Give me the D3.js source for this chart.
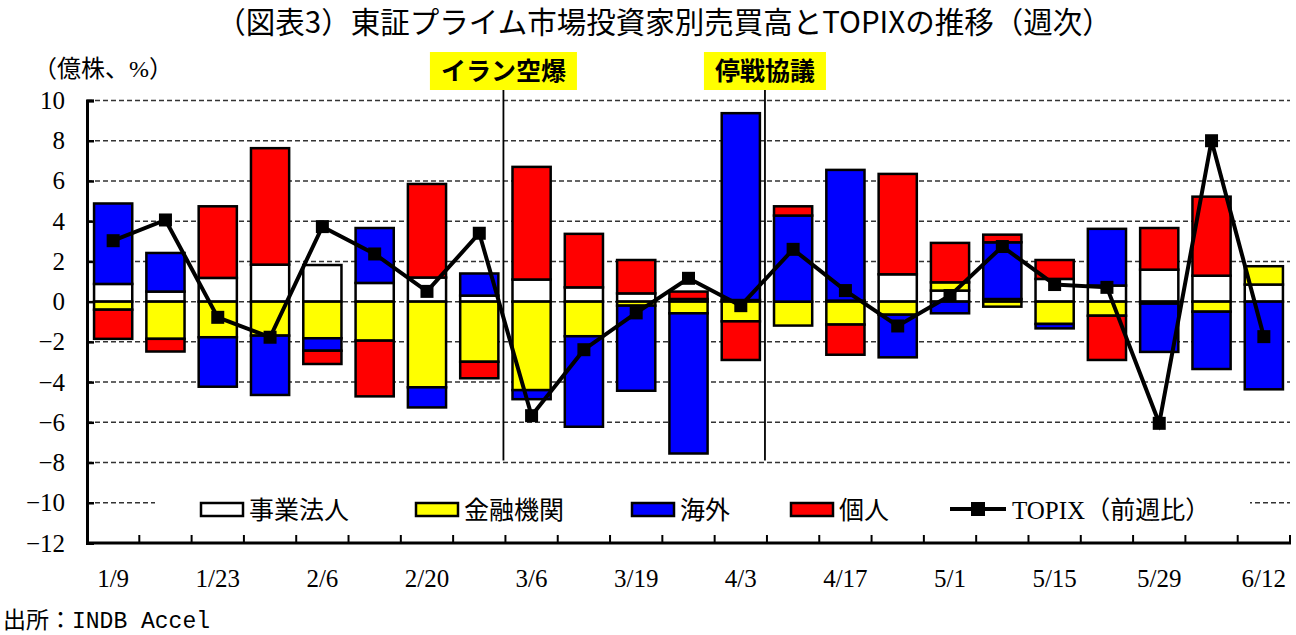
<!DOCTYPE html>
<html>
<head>
<meta charset="utf-8">
<script src="https://cdn.jsdelivr.net/npm/d3@7"></script>
<style>
  body { margin: 0; background: #fff; }
  svg { display: block; }
</style>
</head>
<body>
<svg id="chart" width="1296" height="635"></svg>
<script>
// weekly data (億株 / %)
var dates = ["1/9","1/16","1/23","1/30","2/6","2/13","2/20","2/27","3/6","3/13","3/19","3/27",
             "4/3","4/10","4/17","4/24","5/1","5/8","5/15","5/22","5/29","6/5","6/12"];
var jigyo  = [0.88,0.5,1.18,1.84,1.82,0.93,1.2,0.3,1.1,0.71,0.41,0.13,0.08,0,0.05,1.36,0.55,0.13,1.13,0.8,1.59,1.29,0.85];
var kinyu  = [-0.4,-1.85,-1.77,-1.69,-1.82,-1.94,-4.26,-2.99,-4.4,-1.72,-0.2,-0.58,-0.98,-1.19,-1.14,-0.65,0.41,-0.25,-1.11,-0.7,-0.1,-0.5,0.91];
var kaigai = [4.0,1.92,-2.46,-2.95,-0.62,2.73,-1.0,1.1,-0.45,-4.5,-4.23,-6.97,9.29,4.28,6.5,-2.12,-0.58,2.82,-0.22,2.82,-2.4,-2.85,-4.36];
var kojin  = [-1.45,-0.63,3.56,5.79,-0.66,-2.77,4.65,-0.82,5.6,2.66,1.66,0.37,-1.92,0.46,-1.5,4.99,1.96,0.38,0.94,-2.2,2.07,3.93,0];
var topix  = [3.03,4.06,-0.78,-1.77,3.73,2.37,0.51,3.4,-5.67,-2.39,-0.56,1.16,-0.2,2.6,0.55,-1.21,0.3,2.74,0.85,0.71,-6.05,8.0,-1.74];

var seriesNames = ["事業法人","金融機関","海外","個人"];
var seriesColors = ["#ffffff","#ffff00","#0000ff","#ff0000"];
var yTicks = [10,8,6,4,2,0,-2,-4,-6,-8,-10,-12];
var events = [{label:"イラン空爆", after:"2/27"}, {label:"停戦協議", after:"4/3"}];

(function(){
var serif = "'Liberation Serif','Noto Sans CJK JP',serif";
var gothic = "'Noto Sans CJK JP',sans-serif";

var svg = d3.select("#chart");
var pLeft = 87, pRight = 1290, pTop = 100.5, pBottom = 543;

var x = d3.scaleBand().domain(dates).range([pLeft, pRight]).paddingInner(0.27).paddingOuter(0.135);
var y = d3.scaleLinear().domain([-12, 10]).range([pBottom, pTop]);
var step = x.step();
function boundary(d){ return x(d) - step * 0.135; }

var table = dates.map(function(d, i){
  return {date:d, "事業法人":jigyo[i], "金融機関":kinyu[i], "海外":kaigai[i], "個人":kojin[i]};
});
var stacked = d3.stack().keys(seriesNames).offset(d3.stackOffsetDiverging)(table);

// title
svg.append("text").attr("x", 664).attr("y", 33).attr("text-anchor","middle")
  .attr("font-family", gothic).attr("font-size", 29.5).text("（図表3）東証プライム市場投資家別売買高とTOPIXの推移（週次）");
svg.append("text").attr("x", 33).attr("y", 77)
  .attr("font-family", serif).attr("font-size", 24).text("（億株、%）");

// gridlines
svg.append("g").selectAll("line").data(yTicks.filter(function(t){ return t > -12; })).enter()
  .append("line")
  .attr("x1", pLeft).attr("x2", pRight)
  .attr("y1", function(d){ return y(d); }).attr("y2", function(d){ return y(d); })
  .attr("stroke", "#333").attr("stroke-width", 1.5).attr("stroke-dasharray", "5,3");

// event lines + labels
events.forEach(function(ev){
  var i = dates.indexOf(ev.after);
  var ex = boundary(dates[i + 1]) - 2;
  svg.append("line").attr("x1", ex).attr("x2", ex).attr("y1", 90).attr("y2", y(-7.9))
    .attr("stroke", "#000").attr("stroke-width", 1.8);
  var t = svg.append("text").attr("x", ex).attr("y", 80).attr("text-anchor","middle")
    .attr("font-family", gothic).attr("font-weight", "bold").attr("font-size", 25).text(ev.label);
  var bb = t.node().getBBox();
  svg.insert("rect", function(){ return t.node(); })
    .attr("x", ex - bb.width/2 - 11).attr("y", 52).attr("width", bb.width + 22).attr("height", 38)
    .attr("fill", "#ffff00");
});

// bars
svg.append("g").selectAll("g").data(stacked).enter()
  .append("g")
  .attr("fill", function(d, i){ return seriesColors[i]; })
  .selectAll("rect").data(function(d){ return d.filter(function(s){ return s[1] - s[0] !== 0; }); }).enter()
  .append("rect")
  .attr("x", function(d){ return x(d.data.date); })
  .attr("width", x.bandwidth())
  .attr("y", function(d){ return y(d[1]); })
  .attr("height", function(d){ return y(d[0]) - y(d[1]); })
  .attr("stroke", "#000").attr("stroke-width", 2.5);

// TOPIX line
var line = d3.line().x(function(d, i){ return x(dates[i]) + x.bandwidth()/2; }).y(function(d){ return y(d); });
svg.append("path").datum(topix).attr("d", line).attr("fill", "none")
  .attr("stroke", "#000").attr("stroke-width", 4).attr("stroke-linejoin", "miter");
svg.append("g").selectAll("rect").data(topix).enter().append("rect")
  .attr("x", function(d, i){ return x(dates[i]) + x.bandwidth()/2 - 6.5; })
  .attr("y", function(d){ return y(d) - 6.5; })
  .attr("width", 13).attr("height", 13).attr("fill", "#000");

// legend
var lg = svg.append("g");
lg.append("rect").attr("x", 155).attr("y", 486).attr("width", 1095).attr("height", 42).attr("fill", "#fff");
var lx = [201, 416, 632, 791];
seriesNames.forEach(function(n, i){
  lg.append("rect").attr("x", lx[i]).attr("y", 503).attr("width", 42).attr("height", 13)
    .attr("fill", seriesColors[i]).attr("stroke", "#000").attr("stroke-width", 2.5);
  lg.append("text").attr("x", lx[i] + 48).attr("y", 519).attr("font-family", serif).attr("font-size", 25).text(n);
});
lg.append("line").attr("x1", 950).attr("x2", 1006).attr("y1", 509).attr("y2", 509).attr("stroke", "#000").attr("stroke-width", 4);
lg.append("rect").attr("x", 971).attr("y", 502).attr("width", 14).attr("height", 14).attr("fill", "#000");
lg.append("text").attr("x", 1012).attr("y", 519).attr("font-family", serif).attr("font-size", 25).text("TOPIX（前週比）");

// axes
var yAxis = svg.append("g").attr("transform", "translate(" + pLeft + ",0)")
  .call(d3.axisLeft(y).tickValues(yTicks).tickSize(-7).tickPadding(22)
    .tickFormat(function(d){ return d < 0 ? "\u2212" + Math.abs(d) : d; }));
yAxis.select(".domain").attr("stroke-width", 3);
yAxis.selectAll(".tick line").attr("stroke-width", 2.5);
yAxis.selectAll("text").attr("font-family", serif).attr("font-size", 25).attr("fill", "#000");

var xg = svg.append("g");
xg.append("line").attr("x1", pLeft).attr("x2", pRight + 1).attr("y1", pBottom).attr("y2", pBottom)
  .attr("stroke", "#000").attr("stroke-width", 3);
var bounds = dates.map(boundary).concat([pRight]);
xg.selectAll(".tk").data(bounds.slice(1)).enter().append("line")
  .attr("x1", function(d){ return d; }).attr("x2", function(d){ return d; })
  .attr("y1", pBottom).attr("y2", pBottom - 8).attr("stroke", "#000").attr("stroke-width", 2);
xg.selectAll(".lb").data(dates.filter(function(d, i){ return i % 2 === 0; })).enter().append("text")
  .attr("x", function(d){ return x(d) + x.bandwidth()/2; }).attr("y", 587)
  .attr("text-anchor", "middle").attr("font-family", serif).attr("font-size", 25).text(function(d){ return d; });

// source
svg.append("text").attr("x", 3).attr("y", 628).attr("font-family", "'Liberation Mono','Noto Sans CJK JP',monospace")
  .attr("font-size", 23).text("出所：INDB Accel");
})();
</script>
</body>
</html>
